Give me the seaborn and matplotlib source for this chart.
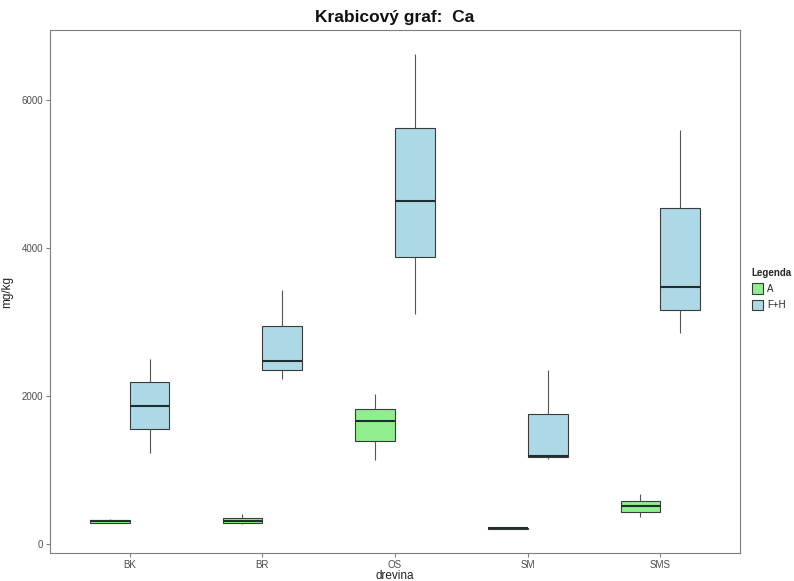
import numpy as np
import pandas as pd
import matplotlib
matplotlib.use("Agg")
import matplotlib.pyplot as plt
import seaborn as sns

# Five-number summaries of Ca content (mg/kg) per tree species and horizon
drevina = ["BK", "BK", "BR", "BR", "OS", "OS", "SM", "SM", "SMS", "SMS"]
horizont = ["A", "F+H", "A", "F+H", "A", "F+H", "A", "F+H", "A", "F+H"]
whisker_low = [280, 1236, 275, 2228, 1130, 3101, 200, 1145, 362, 2855]
q1 = [290, 1557, 290, 2349, 1397, 3870, 205, 1177, 430, 3164]
median = [305, 1865, 310, 2470, 1659, 4627, 210, 1190, 510, 3467]
q3 = [325, 2183, 355, 2944, 1828, 5620, 215, 1762, 577, 4533]
whisker_high = [340, 2500, 410, 3427, 2028, 6621, 220, 2353, 671, 5593]

categories = ["BK", "BR", "OS", "SM", "SMS"]
legend_levels = ["A", "F+H"]
palette = {"A": "#90EE90", "F+H": "#ADD8E6"}

rows = []
for i in range(len(drevina)):
    for v in (whisker_low[i], q1[i], median[i], q3[i], whisker_high[i]):
        rows.append({"drevina": drevina[i], "Legenda": horizont[i], "value": v})
df = pd.DataFrame(rows)

sns.set_theme(style="white")
plt.rcParams["font.family"] = ["Liberation Sans", "DejaVu Sans"]

fig = plt.figure(figsize=(7.94, 5.81), dpi=100)
ax = fig.add_axes([50 / 794, 28 / 581, 690 / 794, 523 / 581])

sns.boxplot(
    data=df, x="drevina", y="value", hue="Legenda",
    order=categories, hue_order=legend_levels, palette=palette,
    width=0.6, gap=0, dodge=True, whis=np.inf, showcaps=False,
    linecolor="#3a3a3a", linewidth=0.8,
    medianprops={"linewidth": 1.5, "color": "#1f2f2f"},
    whiskerprops={"color": "#555555", "linewidth": 0.8},
    saturation=1, ax=ax,
)

# Continuous axis expanded by 5 % of the data range, discrete axis by 0.6
dmin, dmax = min(whisker_low), max(whisker_high)
rng = dmax - dmin
ax.set_ylim(dmin - 0.05 * rng, dmax + 0.05 * rng)
ax.set_xlim(-0.6, len(categories) - 1 + 0.6)
ax.set_yticks([0, 2000, 4000, 6000])

for s in ax.spines.values():
    s.set_visible(True)
    s.set_color("#7f7f7f")
    s.set_linewidth(0.8)

ax.tick_params(axis="both", which="both", bottom=True, left=True,
               length=3, width=0.8, color="#7f7f7f",
               labelsize=7, labelcolor="#4d4d4d", pad=2)
ax.set_xlabel("drevina", fontsize=8.5, color="#222222", labelpad=0)
ax.set_ylabel("mg/kg", fontsize=8.5, color="#222222", labelpad=6)
ax.set_title("Krabicový graf:  Ca", fontsize=12.5, fontweight="bold",
             color="#111111", pad=6)

handles, labels = ax.get_legend_handles_labels()
ax.legend(handles, labels, title="Legenda", loc="center left",
          bbox_to_anchor=(745 / 794, 292 / 581), bbox_transform=fig.transFigure,
          frameon=False, fontsize=7, title_fontproperties={"weight": "bold", "size": 7},
          handlelength=1.2, handleheight=1.3, handletextpad=0.4,
          labelspacing=0.6, borderpad=0.2, alignment="left")

fig.savefig("out.png", dpi=100)
